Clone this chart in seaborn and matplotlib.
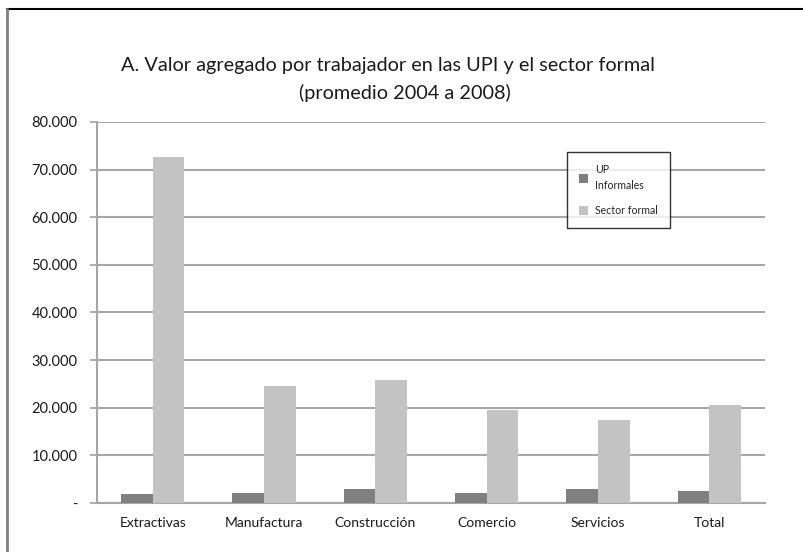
import matplotlib
matplotlib.use("Agg")
import matplotlib.pyplot as plt
import seaborn as sns
import pandas as pd
from matplotlib.lines import Line2D
from matplotlib.patches import Patch

categories = ["Extractivas", "Manufactura", "Construcción", "Comercio", "Servicios", "Total"]
informal = [1900, 2100, 2950, 2100, 2950, 2600]
formal = [72600, 24650, 25850, 19450, 17500, 20650]
series = ["UP\nInformales", "Sector formal"]
ytick_vals = [0, 10000, 20000, 30000, 40000, 50000, 60000, 70000, 80000]
ytick_labels = ["-", "10.000", "20.000", "30.000", "40.000", "50.000", "60.000", "70.000", "80.000"]
title_line1 = "A. Valor agregado por trabajador en las UPI y el sector formal"
title_line2 = "(promedio 2004 a 2008)"

df = pd.DataFrame({
    "cat": categories * 2,
    "serie": [series[0]] * len(categories) + [series[1]] * len(categories),
    "valor": informal + formal,
})

sns.set_style("white")
plt.rcParams["font.family"] = ["Lato", "DejaVu Sans"]

fig = plt.figure(figsize=(8.04, 5.52), dpi=100)
ax = fig.add_axes([0.1206, 0.0888, 0.8309, 0.6902])

palette = {series[0]: "#808080", series[1]: "#c3c3c4"}
sns.barplot(data=df, x="cat", y="valor", hue="serie", order=categories,
            hue_order=series, palette=palette, width=0.57, saturation=1,
            ax=ax, legend=False, edgecolor="none", zorder=3)

ax.set_ylim(0, 80000)
ax.set_xlim(-0.5, len(categories) - 0.5)
ax.set_yticks(ytick_vals)
ax.set_yticklabels(ytick_labels, fontsize=10.5, color="#1a1a1a")
ax.yaxis.grid(True, color="#a6a6a6", linewidth=1.5, zorder=0)
ax.set_axisbelow(True)
ax.set_xlabel("")
ax.set_ylabel("")
ax.tick_params(axis="x", length=0, pad=10, labelsize=10, labelcolor="#1a1a1a")
ax.set_xticks([i - 0.5 for i in range(len(categories) + 1)], minor=True)
ax.tick_params(axis="x", which="minor", length=5, width=1.3, color="#a6a6a6", direction="out")
ax.tick_params(axis="y", length=5, width=1.3, color="#a6a6a6", direction="out", left=True, pad=9)
for s in ["top", "right"]:
    ax.spines[s].set_visible(False)
for s in ["left", "bottom"]:
    ax.spines[s].set_color("#a6a6a6")
    ax.spines[s].set_linewidth(1.5)

handles = [Patch(facecolor=palette[s], edgecolor="none") for s in series]
leg = ax.legend(handles, series, loc="upper left", bbox_to_anchor=(0.7036, 0.921),
                fontsize=7.6, frameon=True, fancybox=False, handlelength=0.85,
                handleheight=0.85, labelspacing=1.35, borderpad=1.15, handletextpad=0.65,
                borderaxespad=0)
leg.get_frame().set_edgecolor("#000000")
leg.get_frame().set_linewidth(1.0)
for t in leg.get_texts():
    t.set_linespacing(1.5)

fig.text(0.483, 0.882, title_line1, ha="center", va="center", fontsize=14.3, color="#1a1a1a")
fig.text(0.504, 0.831, title_line2, ha="center", va="center", fontsize=14.3, color="#1a1a1a")

# outer frame lines
fig.add_artist(Line2D([0.0085, 1.0], [0.983, 0.983], color="black", linewidth=1.5, transform=fig.transFigure))
fig.add_artist(Line2D([0.0085, 0.0085], [0.0, 0.983], color="#808080", linewidth=2, transform=fig.transFigure))

fig.savefig("out.png", dpi=100)
